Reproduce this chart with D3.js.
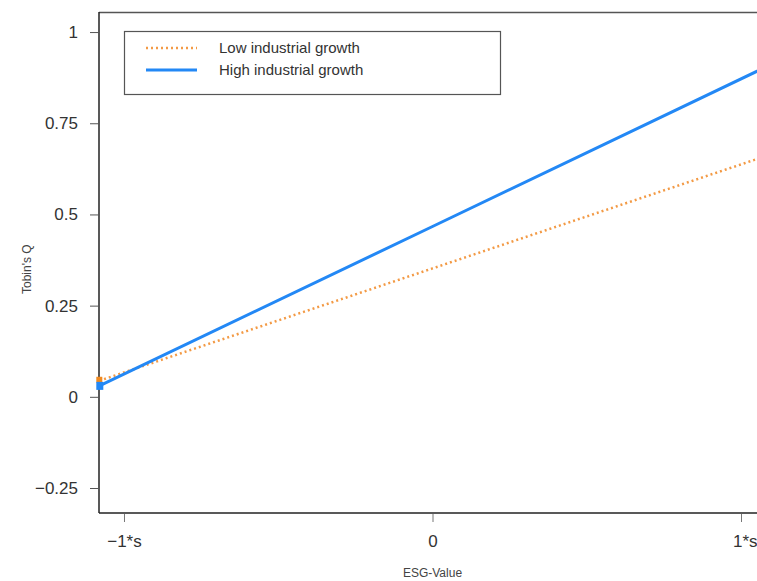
<!DOCTYPE html>
<html>
<head>
<meta charset="utf-8">
<script src="https://cdn.jsdelivr.net/npm/d3@7"></script>
<style>
	body { margin: 0; background: #fff; }
	svg { display: block; font-family: "Liberation Sans", Arial, sans-serif; }
</style>
</head>
<body>
<svg id="chart" width="757" height="581"></svg>
<script>
// ESG value (in units of s) at which each line is evaluated
const esgValues = [-1.08, 0, 1.08];
const lowGrowth = [0.044, 0.352, 0.660];
const highGrowth = [0.030, 0.467, 0.904];

const seriesNames = ["Low industrial growth", "High industrial growth"];
const yTicks = [-0.25, 0, 0.25, 0.5, 0.75, 1];
const yTickLabels = ["\u22120.25", "0", "0.25", "0.5", "0.75", "1"];
const xTicks = [-1, 0, 1];
const xTickLabels = ["\u22121*s", "0", "1*s"];

const svg = d3.select("#chart");
const margin = {left: 99, top: 12, bottom: 513, right: 766};

const x = d3.scaleLinear().domain([-1.081, 1.081]).range([margin.left, margin.right]);
const y = d3.scaleLinear().domain([-0.3185, 1.055]).range([margin.bottom, margin.top]);

// top border of the plot box
svg.append("line")
	.attr("x1", margin.left).attr("x2", 757)
	.attr("y1", margin.top + 0.5).attr("y2", margin.top + 0.5)
	.attr("stroke", "#555").attr("stroke-width", 1.5);

// y axis
const yAxis = d3.axisLeft(y)
	.tickValues(yTicks)
	.tickFormat((d, i) => yTickLabels[i])
	.tickSize(9)
	.tickPadding(12)
	.tickSizeOuter(0);

const gy = svg.append("g")
	.attr("transform", "translate(" + margin.left + ",0)")
	.call(yAxis);
gy.select(".domain").attr("stroke", "#222").attr("stroke-width", 1.5)
	.attr("d", "M0," + margin.top + "V" + margin.bottom);
gy.selectAll(".tick line").attr("stroke", "#555");
gy.selectAll(".tick text").attr("fill", "#333").style("font-size", "17px");

// x axis
const xAxis = d3.axisBottom(x)
	.tickValues(xTicks)
	.tickFormat((d, i) => xTickLabels[i])
	.tickSize(8)
	.tickPadding(14)
	.tickSizeOuter(0);

const gx = svg.append("g")
	.attr("transform", "translate(0," + margin.bottom + ")")
	.call(xAxis);
gx.select(".domain").attr("stroke", "#222").attr("stroke-width", 1.5)
	.attr("d", "M" + margin.left + ",0H757");
gx.selectAll(".tick line").attr("stroke", "#777").attr("transform", "translate(0,1)");
gx.selectAll(".tick text").attr("fill", "#333").style("font-size", "17px");
// the last label sits against the right edge, as in the original
gx.selectAll(".tick text").filter((d, i) => i === xTicks.length - 1)
	.attr("text-anchor", "end").attr("x", 757 - x(1));

// axis titles
svg.append("text")
	.attr("x", x(0)).attr("y", 577)
	.attr("text-anchor", "middle")
	.attr("fill", "#444").style("font-size", "12px")
	.text("ESG-Value");

svg.append("text")
	.attr("transform", "translate(31," + y(0.35) + ") rotate(-90)")
	.attr("text-anchor", "middle")
	.attr("fill", "#444").style("font-size", "12px")
	.text("Tobin's Q");

// lines
const line = d3.line()
	.x((d, i) => x(esgValues[i]))
	.y(d => y(d));

const plot = svg.append("g");

plot.append("path")
	.attr("d", line(lowGrowth))
	.attr("fill", "none")
	.attr("stroke", "#f39a45")
	.attr("stroke-width", 2.5)
	.attr("stroke-dasharray", "2,3");

plot.append("path")
	.attr("d", line(highGrowth))
	.attr("fill", "none")
	.attr("stroke", "#2388f5")
	.attr("stroke-width", 3);

// small end markers at the left edge
plot.append("rect")
	.attr("x", x(esgValues[0]) - 3).attr("y", y(lowGrowth[0]) - 4)
	.attr("width", 6).attr("height", 6)
	.attr("fill", "#f08a20");
plot.append("rect")
	.attr("x", x(esgValues[0]) - 3).attr("y", y(highGrowth[0]) - 4)
	.attr("width", 7).attr("height", 8)
	.attr("fill", "#2388f5");

// legend
const legend = svg.append("g");
legend.append("rect")
	.attr("x", 124.5).attr("y", 31.5)
	.attr("width", 376).attr("height", 63)
	.attr("fill", "#fff")
	.attr("stroke", "#555").attr("stroke-width", 1.2);

const legendStyles = [
	{color: "#f39a45", width: 2.5, dash: "2,3"},
	{color: "#2388f5", width: 3, dash: null}
];

seriesNames.forEach((name, i) => {
	const ly = 48 + i * 22;
	legend.append("line")
		.attr("x1", 146).attr("x2", 197)
		.attr("y1", ly).attr("y2", ly)
		.attr("stroke", legendStyles[i].color)
		.attr("stroke-width", legendStyles[i].width)
		.attr("stroke-dasharray", legendStyles[i].dash);
	legend.append("text")
		.attr("x", 219).attr("y", ly + 5)
		.attr("fill", "#333").style("font-size", "15px")
		.text(name);
});
</script>
</body>
</html>
